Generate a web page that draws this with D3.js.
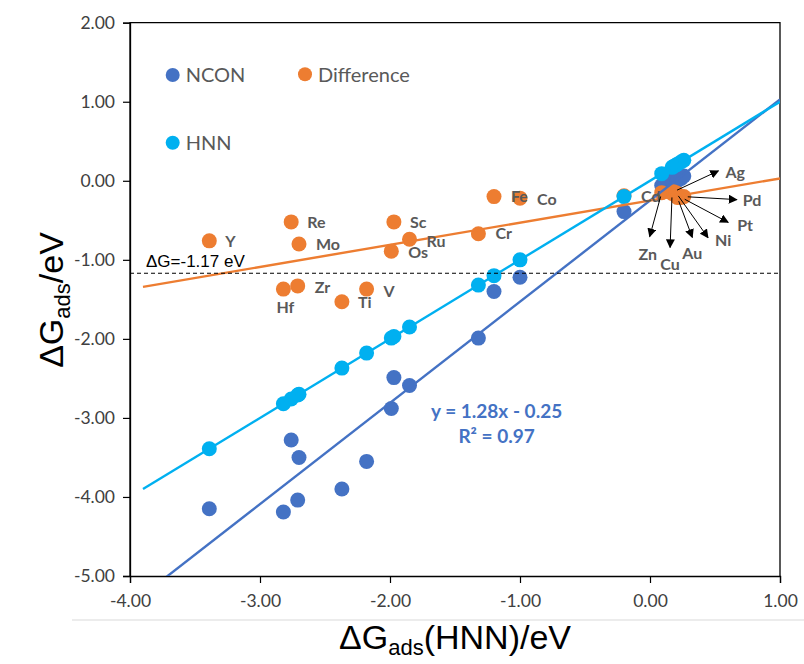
<!DOCTYPE html>
<html>
<head>
<meta charset="utf-8">
<script src="https://cdn.jsdelivr.net/npm/d3@7"></script>
<style>
body { margin: 0; background: #fff; }
text { font-family: Lato, "Open Sans", sans-serif; }
.axis-title { font-family: "Liberation Sans", Arial, sans-serif; }
</style>
</head>
<body>
<div id="chart"></div>
<script>
// values, eV
var metals     = ["Y", "Re", "Mo", "Hf", "Zr", "Ti", "V", "Sc", "Os", "Ru", "Cr", "Fe", "Co", "Cd", "Zn", "Cu", "Ag", "Ni", "Au", "Pt", "Pd"];
var hnn        = [-3.39, -2.76, -2.70, -2.82, -2.71, -2.37, -2.18, -1.97, -1.99, -1.85, -1.32, -1.20, -1.00, -0.20, 0.09, 0.17, 0.18, 0.20, 0.21, 0.24, 0.26];
var ncon       = [-4.15, -3.28, -3.50, -4.19, -4.04, -3.90, -3.55, -2.49, -2.88, -2.59, -1.99, -1.40, -1.22, -0.39, -0.06, 0.01, 0.04, 0.05, 0.00, 0.03, 0.06];
var difference = [-0.76, -0.52, -0.80, -1.37, -1.33, -1.53, -1.37, -0.52, -0.89, -0.74, -0.67, -0.20, -0.22, -0.19, -0.15, -0.16, -0.14, -0.15, -0.21, -0.21, -0.20];

// series in drawing order, with their linear trendlines (slope, intercept)
var seriesNames     = ["NCON", "Difference", "HNN"];
var seriesColors    = ["#4472C4", "#ED7D31", "#00B0F0"];
var trendSlopes     = [1.28, 0.28, 1.00];
var trendIntercepts = [-0.25, -0.25, 0.00];
var trendFrom = -3.9, trendTo = 1.0;

var xTicks = [-4, -3, -2, -1, 0, 1];
var yTicks = [2, 1, 0, -1, -2, -3, -4, -5];
var threshold = -1.17;
var equationText = ["y = 1.28x - 0.25", "R² = 0.97"];

// set the dimensions and margins of the graph
var margin = {top: 22.7, right: 24, bottom: 88, left: 130},
    W = 804, H = 664,
    width = W - margin.left - margin.right,
    height = H - margin.top - margin.bottom;

var root = d3.select("#chart")
  .append("svg")
  .attr("width", W)
  .attr("height", H);

// faint chart-area edge under the x title
root.append("line")
  .attr("x1", 72).attr("x2", W)
  .attr("y1", 620).attr("y2", 620)
  .style("stroke", "#d9d9d9").style("stroke-width", 1);

var svg = root.append("g")
  .attr("transform", "translate(" + margin.left + "," + margin.top + ")");

var x = d3.scaleLinear().domain([-4, 1]).range([0, width]);
var y = d3.scaleLinear().domain([-5, 2]).range([height, 0]);

svg.append("defs").append("clipPath").attr("id", "plotclip")
  .append("rect").attr("width", width).attr("height", height);

var arrowDefs = root.append("defs");
arrowDefs.append("marker")
  .attr("id", "arrowhead")
  .attr("viewBox", "0 0 10 10")
  .attr("refX", 9).attr("refY", 5)
  .attr("markerWidth", 9).attr("markerHeight", 9)
  .attr("markerUnits", "userSpaceOnUse")
  .attr("orient", "auto")
  .append("path").attr("d", "M0,0 L10,5 L0,10 z").style("fill", "#000");

// plot border (left, top, right) + bottom axis
svg.append("path")
  .attr("d", "M0," + height + "V0H" + width + "V" + height)
  .style("fill", "none").style("stroke", "#000").style("stroke-width", 1.3);

var xAxis = svg.append("g")
  .attr("transform", "translate(0," + height + ")")
  .call(d3.axisBottom(x).tickValues(xTicks).tickSize(7).tickPadding(12).tickFormat(d3.format(".2f")));
var yAxis = svg.append("g")
  .call(d3.axisLeft(y).tickValues(yTicks).tickSize(7).tickPadding(8).tickFormat(d3.format(".2f")));

[xAxis, yAxis].forEach(function(a){
  a.select(".domain").style("stroke", "#000").style("stroke-width", 1.3);
  a.selectAll(".tick line").style("stroke", "#000").style("stroke-width", 1.2);
  a.selectAll(".tick text")
    .style("font-family", "Lato, sans-serif")
    .style("font-size", "17.5px")
    .style("fill", "#404040")
    .text(function(d){ return d3.format(".2f")(d).replace("−", "-"); });
});

// markers, series by series
var seriesValues = [ncon, difference, hnn];
seriesValues.forEach(function(vals, s){
  svg.append("g").selectAll("circle")
    .data(vals)
    .enter().append("circle")
      .attr("cx", function(d, i){ return x(hnn[i]); })
      .attr("cy", function(d){ return y(d); })
      .attr("r", 7.5)
      .style("fill", seriesColors[s]);
});

// trendlines
var trend = svg.append("g").attr("clip-path", "url(#plotclip)");
trendSlopes.forEach(function(m, s){
  var b = trendIntercepts[s];
  trend.append("line")
    .attr("x1", x(trendFrom)).attr("y1", y(m * trendFrom + b))
    .attr("x2", x(trendTo)).attr("y2", y(m * trendTo + b))
    .style("stroke", seriesColors[s])
    .style("stroke-width", 2.4);
});

// threshold line
svg.append("line")
  .attr("x1", 0).attr("x2", width)
  .attr("y1", y(threshold)).attr("y2", y(threshold))
  .style("stroke", "#000").style("stroke-width", 1.2)
  .style("stroke-dasharray", "4,3");
svg.append("text")
  .attr("x", 16).attr("y", y(threshold) - 6)
  .style("font-family", "'Liberation Sans', Arial, sans-serif")
  .style("font-size", "17px")
  .style("fill", "#000")
  .text("ΔG=" + threshold.toFixed(2) + " eV");

// element labels: offset from the orange point, optional arrow end
var labelPlace = {
  Y:  {dx: 16, dy: 0}, Re: {dx: 16, dy: 0}, Mo: {dx: 17, dy: 0},
  Hf: {dx: 2, dy: 18, anchor: "middle"}, Zr: {dx: 17, dy: 1},
  Ti: {dx: 16, dy: 1}, V: {dx: 17, dy: 2}, Sc: {dx: 16, dy: 0},
  Os: {dx: 17, dy: 1}, Ru: {dx: 17, dy: 2}, Cr: {dx: 17, dy: 0},
  Fe: {dx: 17, dy: 0}, Co: {dx: 17, dy: 1}, Cd: {dx: 17, dy: 0},
  Zn: {dx: -14, dy: 62, anchor: "middle", ax: -12, ay: 44},
  Cu: {dx: -2, dy: 71, anchor: "middle", ax: -2, ay: 54},
  Au: {dx: 15, dy: 56, anchor: "middle", ax: 15, ay: 40},
  Ni: {dx: 39, dy: 48, ax: 32, ay: 45},
  Pt: {dx: 56, dy: 28, ax: 47, ay: 25},
  Pd: {dx: 59, dy: 4, ax: 53, ay: 3},
  Ag: {dx: 52, dy: -20, ax: 45, ay: -21}
};

metals.forEach(function(name, i){
  var p = labelPlace[name];
  var px = x(hnn[i]), py = y(difference[i]);
  if (p.ax !== undefined) {
    var len = Math.sqrt(p.ax * p.ax + p.ay * p.ay);
    svg.append("line")
      .attr("x1", px + p.ax / len * 4).attr("y1", py + p.ay / len * 4)
      .attr("x2", px + p.ax).attr("y2", py + p.ay)
      .style("stroke", "#000").style("stroke-width", 1)
      .attr("marker-end", "url(#arrowhead)");
  }
  svg.append("text")
    .attr("x", px + p.dx).attr("y", py + p.dy)
    .attr("dy", "0.36em")
    .attr("text-anchor", p.anchor || "start")
    .style("font-size", "16px")
    .style("font-weight", "bold")
    .style("fill", "#595959")
    .text(name);
});

// NCON fit equation
equationText.forEach(function(t, k){
  svg.append("text")
    .attr("x", x(-1.18)).attr("y", y(-3.0) + k * 25)
    .attr("text-anchor", "middle")
    .style("font-size", "19px")
    .style("font-weight", "bold")
    .style("fill", "#4472C4")
    .text(t);
});

// legend
var legendPos = [[42.7, 52.3], [175, 51.6], [42.7, 120]];
seriesNames.forEach(function(n, s){
  var g = svg.append("g").attr("transform", "translate(" + legendPos[s][0] + "," + legendPos[s][1] + ")");
  g.append("circle").attr("r", 7).style("fill", seriesColors[s]);
  g.append("text")
    .attr("x", 13).attr("dy", "0.36em")
    .style("font-size", "20px")
    .style("fill", "#595959")
    .text(n);
});

// axis titles
var yTitle = root.append("text")
  .attr("class", "axis-title")
  .attr("transform", "translate(63,300) rotate(-90)")
  .attr("text-anchor", "middle")
  .style("font-size", "34px")
  .style("fill", "#000");
yTitle.append("tspan").text("ΔG");
yTitle.append("tspan").attr("dy", 7).style("font-size", "22px").text("ads");
yTitle.append("tspan").attr("dy", -7).text("/eV");

var xTitle = root.append("text")
  .attr("class", "axis-title")
  .attr("x", 455).attr("y", 649)
  .attr("text-anchor", "middle")
  .style("font-size", "34px")
  .style("fill", "#000");
xTitle.append("tspan").text("ΔG");
xTitle.append("tspan").attr("dy", 6).style("font-size", "22px").text("ads");
xTitle.append("tspan").attr("dy", -6).text("(HNN)/eV");
</script>
</body>
</html>
